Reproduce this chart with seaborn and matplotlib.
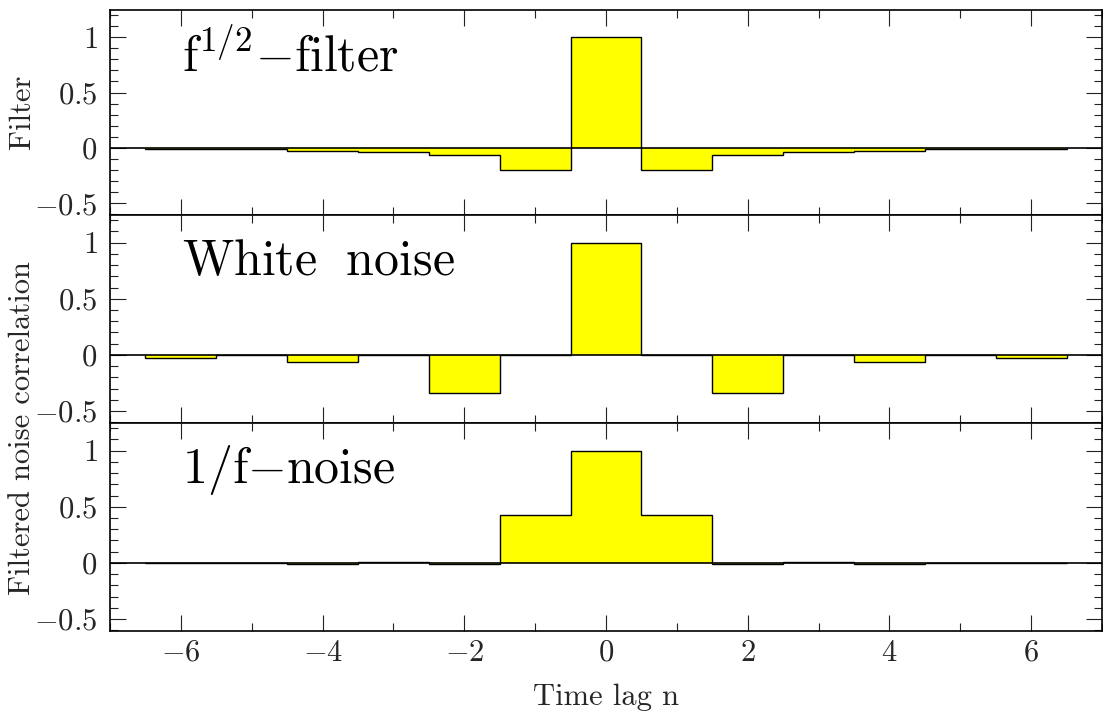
import numpy as np
import pandas as pd
import matplotlib
matplotlib.use("Agg")
import matplotlib.pyplot as plt
from matplotlib.ticker import MultipleLocator, FixedLocator, FixedFormatter
import seaborn as sns

sns.set_theme(style="white")
plt.rcParams["font.family"] = ["cmr10", "DejaVu Serif"]
plt.rcParams["mathtext.fontset"] = "cm"
plt.rcParams["axes.unicode_minus"] = False

# Time lags and the three panel series
lags = [-6, -5, -4, -3, -2, -1, 0, 1, 2, 3, 4, 5, 6]
filter_vals = [-0.008, -0.01, -0.025, -0.038, -0.062, -0.2, 1.0,
               -0.2, -0.062, -0.038, -0.025, -0.01, -0.008]
white_vals = [-0.03, 0.0, -0.066, 0.0, -0.336, 0.0, 1.0,
              0.0, -0.336, 0.0, -0.066, 0.0, -0.03]
onef_vals = [-0.002, 0.002, -0.008, 0.012, -0.012, 0.43, 1.0,
             0.43, -0.012, 0.012, -0.008, 0.002, -0.002]

panel_titles = [r"$\mathrm{f}^{1/2}{-}\mathrm{filter}$",
                r"$\mathrm{White\ \ noise}$",
                r"$1/\mathrm{f}{-}\mathrm{noise}$"]
ytick_vals = [-0.5, 0, 0.5, 1]
ytick_text = [r"$-0.5$", r"$0$", r"$0.5$", r"$1$"]
xtick_vals = [-6, -4, -2, 0, 2, 4, 6]
xtick_text = [r"$-6$", r"$-4$", r"$-2$", r"$0$", r"$2$", r"$4$", r"$6$"]

fig = plt.figure(figsize=(11.03, 7.13), dpi=100)
left, right = 110 / 1103, 1102 / 1103
tops = [10, 215, 423]
bots = [215, 423, 631]
H = 713.0

series = [filter_vals, white_vals, onef_vals]
edges = np.append(np.asarray(lags, float) - 0.5, lags[-1] + 0.5)
axes = []
for i in range(3):
    ax = fig.add_axes([left, 1 - bots[i] / H, right - left, (bots[i] - tops[i]) / H])
    df = pd.DataFrame({"lag": lags, "value": series[i]})
    # filled unit-width bars, outlined afterwards as a single step curve
    sns.barplot(data=df, x="lag", y="value", native_scale=True, width=1.0,
                color="#ffff00", saturation=1, linewidth=0, ax=ax)
    ax.stairs(series[i], edges, baseline=0, fill=False, color="black",
              lw=1.0, zorder=4)
    ax.axhline(0, color="black", lw=1.2, zorder=3)
    ax.set_xlim(-7, 7)
    ax.set_ylim(-0.605, 1.245)
    ax.set_xlabel("")
    ax.set_ylabel("")
    ax.xaxis.set_major_locator(FixedLocator(xtick_vals))
    ax.xaxis.set_minor_locator(MultipleLocator(1))
    ax.yaxis.set_major_locator(FixedLocator(ytick_vals))
    ax.yaxis.set_major_formatter(FixedFormatter(ytick_text))
    ax.yaxis.set_minor_locator(MultipleLocator(0.1))
    ax.tick_params(which="both", direction="in", top=True, bottom=True,
                   left=True, right=True, color="#222222", width=0.8)
    ax.tick_params(which="major", length=11.5)
    ax.tick_params(which="minor", length=5.8)
    ax.tick_params(axis="y", labelsize=22, pad=9)
    ax.tick_params(axis="x", labelsize=22, pad=6)
    if i < 2:
        ax.set_xticklabels([])
    else:
        ax.xaxis.set_major_formatter(FixedFormatter(xtick_text))
    for s in ax.spines.values():
        s.set_color("black")
        s.set_linewidth(1.2)
    ax.text(0.073, 0.775, panel_titles[i], transform=ax.transAxes,
            fontsize=36, color="black", ha="left", va="center")
    axes.append(ax)

fig.text(22 / 1103, 1 - 112 / H, "Filter", rotation=90, fontsize=22,
         ha="center", va="center")
fig.text(22 / 1103, 1 - 428 / H, "Filtered noise correlation", rotation=90,
         fontsize=22, ha="center", va="center")
fig.text(606 / 1103, 1 - 697 / H, "Time lag n", fontsize=22,
         ha="center", va="center")

fig.savefig("out.png", dpi=100)
